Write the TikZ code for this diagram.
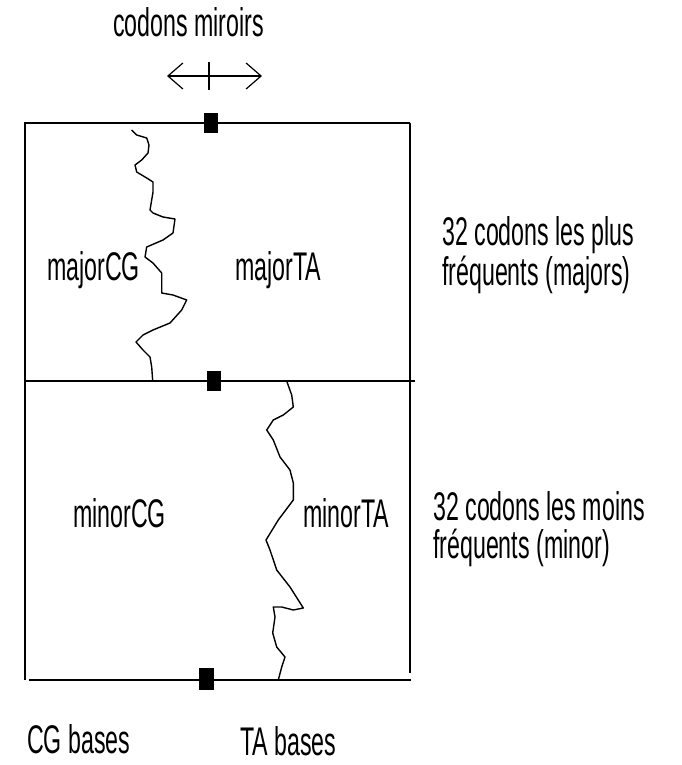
\documentclass[tikz,border=0pt]{standalone}
\usepackage{fontspec}
\setmainfont{Liberation Sans}[FakeStretch=0.58]
\usetikzlibrary{arrows.meta}
\begin{document}
\begin{tikzpicture}[x=1pt,y=-1pt,
  lbl/.style={anchor=base west,inner sep=0pt,font=\fontsize{40}{44}\selectfont},
  frame/.style={line width=2pt,line cap=butt},
  wig/.style={line width=1.4pt,line join=round},
  sq/.style={fill=black,draw=none,minimum width=14pt,minimum height=20pt,inner sep=0pt}]
\useasboundingbox (0,0) rectangle (682,765);
% corners
\coordinate (tl) at (25,123);
\coordinate (tr) at (410,123);
\coordinate (ml) at (25,381);
\coordinate (mr) at (415,381);
\coordinate (bl) at (29,680);
\coordinate (br) at (411,680);
\coordinate (lb) at (25,680);
\coordinate (rb) at (410,673);
% frame
\draw[frame] (tr) -- (tl) -- (lb);
\draw[frame] (tr) -- (rb);
\draw[frame] (ml) -- (mr);
\draw[frame] (bl) -- (br);
% squares
\node[sq] (sqt) at (210.5,123) {};
\node[sq] (sqm) at (214,381) {};
\node[sq,minimum width=15pt,minimum height=22pt] (sqb) at (206.5,679) {};
% mirror arrow
\coordinate (al) at (167,76);
\coordinate (ar) at (262,76);
\coordinate (tkt) at (209,62);
\coordinate (tkb) at (209,90);
\draw[line width=1.4pt,{Straight Barb[length=15pt,width=26pt,line width=1.2pt]}-{Straight Barb[length=15pt,width=26pt,line width=1.2pt]}] (al) -- (ar);
\draw[line width=1.4pt] (tkt) -- (tkb);
% upper wiggle
\draw[wig] (131.7,130) -- (136.7,135) -- (146.7,138) -- (149,145) -- (148,153) -- (141.7,160) -- (135,165) -- (136.7,172) -- (146.7,178) -- (153,182) -- (153,192) -- (151.7,200) -- (150,210) -- (153,213) -- (163,217) -- (175,219) -- (173,233) -- (163,240) -- (146.7,247) -- (145,257) -- (153,263) -- (161.7,273) -- (161.7,293) -- (173,295) -- (186.7,300) -- (181.7,310) -- (170,323) -- (153,330) -- (143,335) -- (136,342) -- (143,350) -- (150,357) -- (151.7,367) -- (152.7,381);
% lower wiggle
\draw[wig] (286.7,381) -- (291.7,395) -- (293.3,407) -- (283.3,415) -- (273.3,420) -- (266.7,430) -- (273.3,440) -- (280,457) -- (290,470) -- (293.3,483) -- (293.3,500) -- (278.3,520) -- (266,540) -- (270,550) -- (276.7,570) -- (290,587) -- (303.3,608) -- (293.3,610) -- (281.7,607) -- (273.3,607) -- (275,617) -- (272.7,633) -- (276.7,647) -- (285,657) -- (281.7,667) -- (278.3,680);
% labels
\node[lbl] (miroirs) at (113,37) {codons miroirs};
\node[lbl] (majCG) at (47,280) {majorCG};
\node[lbl] (majTA) at (235,280) {majorTA};
\node[lbl] (minCG) at (73,527) {minorCG};
\node[lbl] (minTA) at (303,527) {minorTA};
\node[lbl] (plus1) at (442,245) {32 codons les plus};
\node[lbl] (plus2) at (442,285) {fréquents (majors)};
\node[lbl] (moins1) at (433,520) {32 codons les moins};
\node[lbl] (moins2) at (433,558) {fréquents (minor)};
\node[lbl] (cgb) at (27,753) {CG bases};
\node[lbl] (tab) at (240,755) {TA bases};
\end{tikzpicture}
\end{document}
